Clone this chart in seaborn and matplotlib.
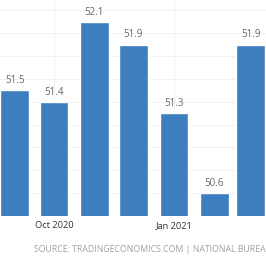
import matplotlib
matplotlib.use("Agg")
import matplotlib.pyplot as plt
import matplotlib.dates as mdates
import seaborn as sns
import pandas as pd
import numpy as np

months = ["2020-09-01", "2020-10-01", "2020-11-01", "2020-12-01",
          "2021-01-01", "2021-02-01", "2021-03-01"]
values = [51.5, 51.4, 52.1, 51.9, 51.3, 50.6, 51.9]
tick_dates = ["2020-10-01", "2021-01-01"]
tick_labels = ["Oct 2020", "Jan 2021"]
source_text = "SOURCE: TRADINGECONOMICS.COM | NATIONAL BUREAU OF STATISTICS OF CHINA"

sns.set_theme(style="white")
plt.rcParams['font.family'] = ['Open Sans', 'DejaVu Sans']

dates = pd.to_datetime(months)
xnum = mdates.date2num(dates)
df = pd.DataFrame({"x": xnum, "v": values})

fig = plt.figure(figsize=(2.66, 2.66), dpi=100)
ax = fig.add_axes([0, 50/266, 1, 216/266])

sns.barplot(data=df, x="x", y="v", native_scale=True, width=0.79,
            color="#3d7ebf", saturation=1, ax=ax, zorder=2, errorbar=None)

oct1 = mdates.date2num(pd.Timestamp("2020-10-01"))
ax.set_xlim(oct1 - 41.4, oct1 + 162.6)
ax.set_ylim(50.41, 52.29)

ax.set_yticks(np.arange(50.4, 52.3, 0.2))
ax.set_yticklabels([])
tnum = mdates.date2num(pd.to_datetime(tick_dates))
ax.set_xticks(tnum)
ax.set_xticklabels(tick_labels, fontsize=6.7, color="#333333")
ax.tick_params(axis="both", length=0, pad=3.5)
ax.tick_params(axis="y", labelleft=False)
ax.grid(True, color="#f1f1f1", linewidth=0.7, zorder=0)
ax.set_axisbelow(True)
for s in ax.spines.values():
    s.set_visible(False)
ax.set_xlabel("")
ax.set_ylabel("")

for c in ax.containers:
    ax.bar_label(c, labels=[f"{v:.1f}" for v in values], padding=3,
                 fontsize=7, color="#666666")

fig.text(34/266, 16/266, source_text, fontsize=6.3, color="#a0a0a0",
         ha="left", va="center")

fig.savefig("out.png", dpi=100)
